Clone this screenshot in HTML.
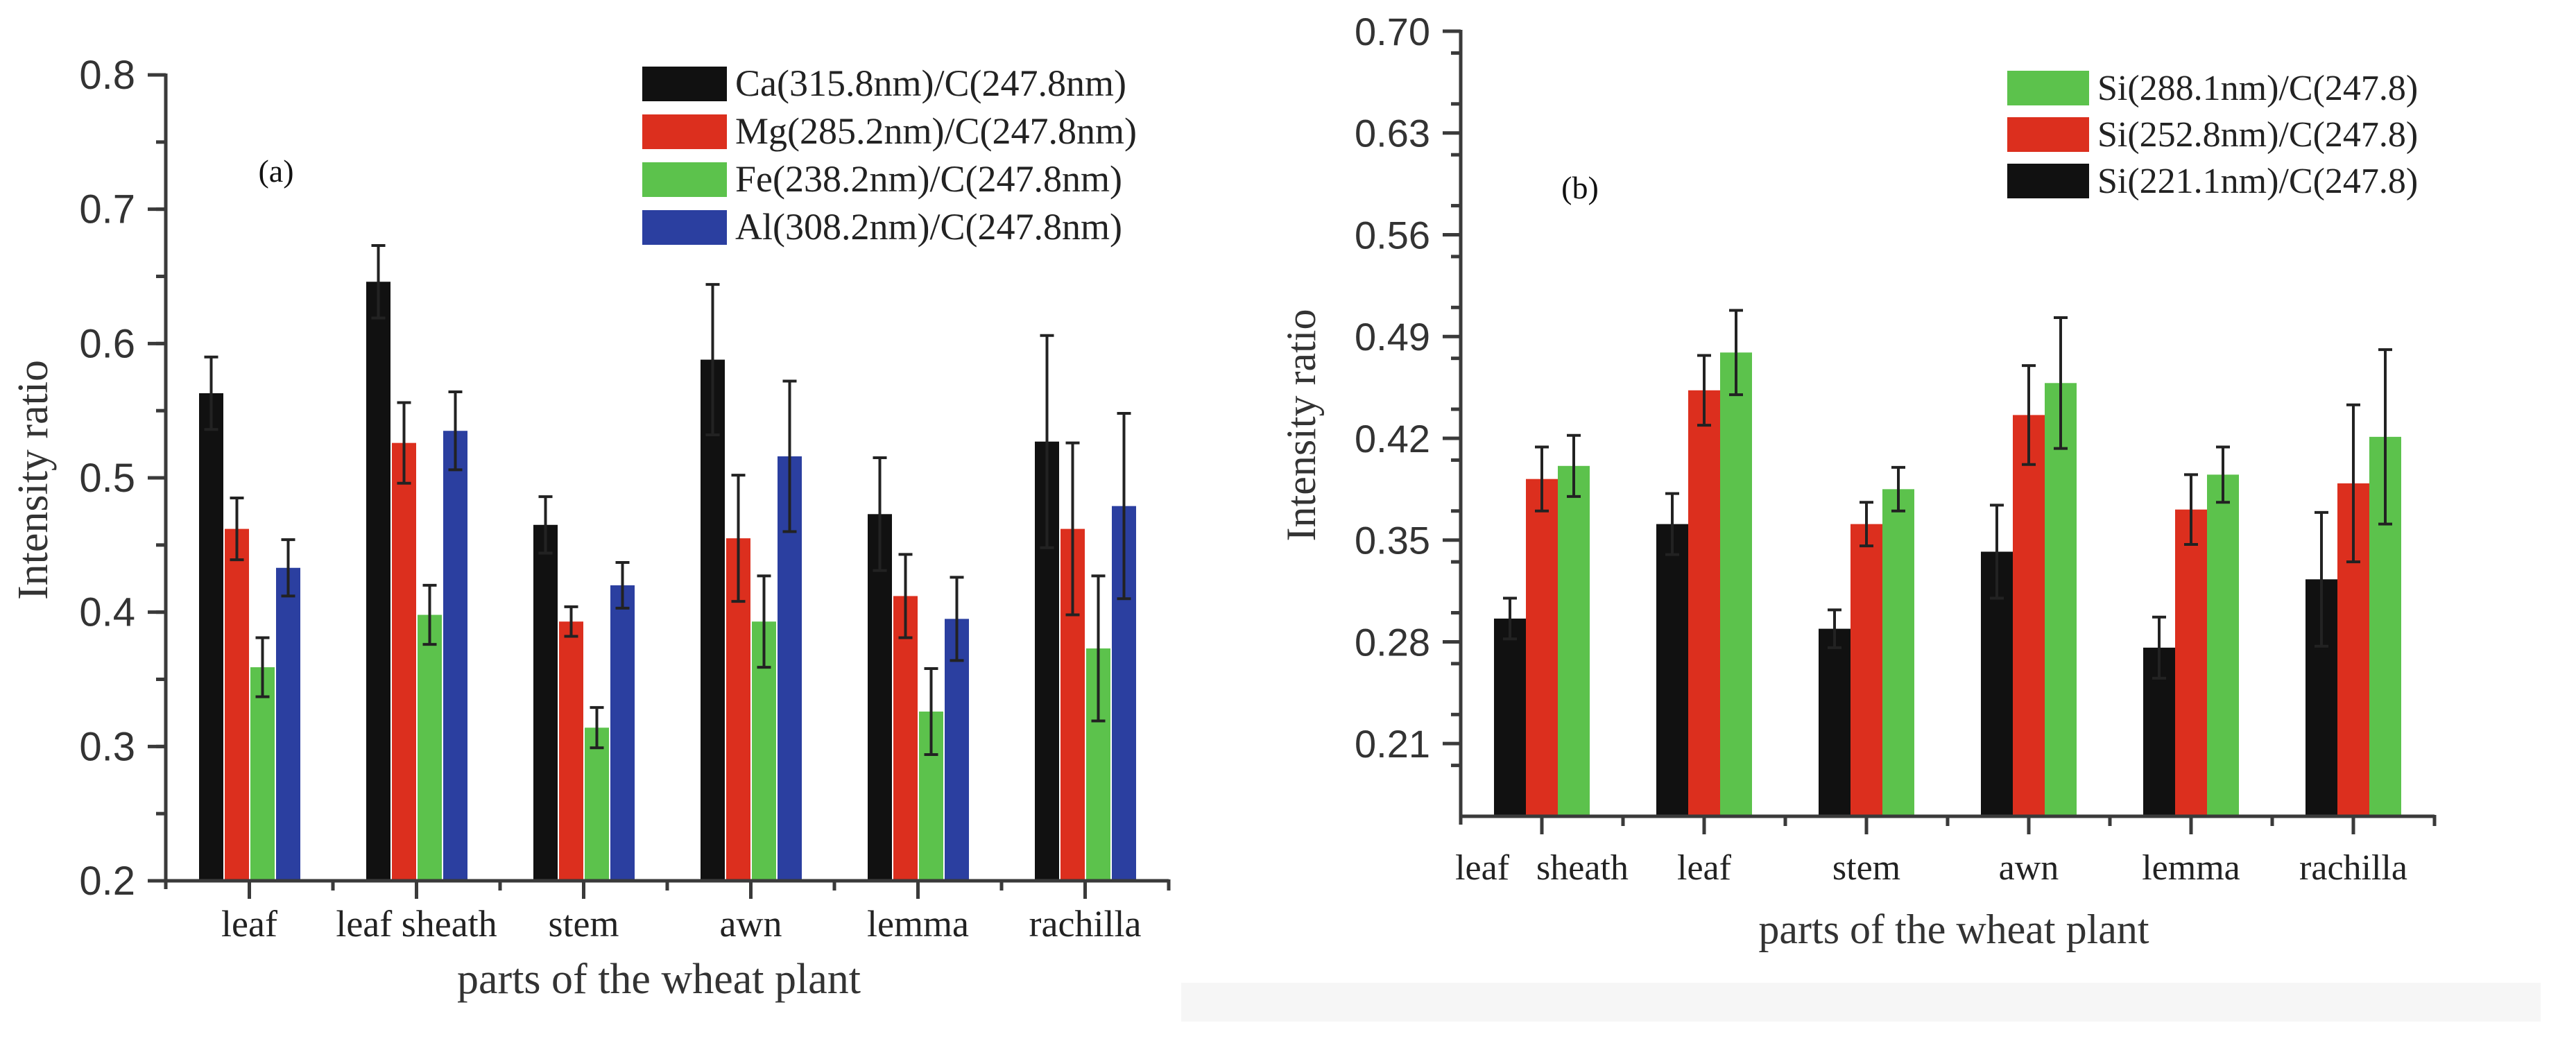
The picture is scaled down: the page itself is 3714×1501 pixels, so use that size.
<!DOCTYPE html>
<html><head><meta charset="utf-8"><style>
html,body{margin:0;padding:0;background:#fff;width:3714px;height:1501px;overflow:hidden}
svg{display:block}
.sans{font-family:"Liberation Sans",Arial,sans-serif}
.serif{font-family:"Liberation Serif","Times New Roman",serif}
text{white-space:pre}
</style></head><body>
<svg id="fig" width="3714" height="1501" viewBox="0 0 3714 1501" xmlns="http://www.w3.org/2000/svg">
<rect x="1703" y="1417" width="1960" height="56" fill="#f6f6f6"/>
<g id="chartA"></g>
<g id="chartB"></g>
</svg>
<script>
// ---- Chart (a) data ----
const catsA = ["leaf","leaf sheath","stem","awn","lemma","rachilla"];
const seriesNamesA = ["Ca(315.8nm)/C(247.8nm)","Mg(285.2nm)/C(247.8nm)","Fe(238.2nm)/C(247.8nm)","Al(308.2nm)/C(247.8nm)"];
const caA = [0.563,0.646,0.465,0.588,0.473,0.527];
const mgA = [0.462,0.526,0.393,0.455,0.412,0.462];
const feA = [0.359,0.398,0.314,0.393,0.326,0.373];
const alA = [0.433,0.535,0.420,0.516,0.395,0.479];
const caErrA = [0.027,0.027,0.021,0.056,0.042,0.079];
const mgErrA = [0.023,0.030,0.011,0.047,0.031,0.064];
const feErrA = [0.022,0.022,0.015,0.034,0.032,0.054];
const alErrA = [0.021,0.029,0.017,0.056,0.031,0.069];
const yTicksA = ["0.2","0.3","0.4","0.5","0.6","0.7","0.8"];

// ---- Chart (b) data ----
const catsB = ["leaf   sheath","leaf","stem","awn","lemma","rachilla"];
const seriesNamesB = ["Si(288.1nm)/C(247.8)","Si(252.8nm)/C(247.8)","Si(221.1nm)/C(247.8)"];
const si221 = [0.296,0.361,0.289,0.342,0.276,0.323];
const si252 = [0.392,0.453,0.361,0.436,0.371,0.389];
const si288 = [0.401,0.479,0.385,0.458,0.395,0.421];
const si221Err = [0.014,0.021,0.013,0.032,0.021,0.046];
const si252Err = [0.022,0.024,0.015,0.034,0.024,0.054];
const si288Err = [0.021,0.029,0.015,0.045,0.019,0.060];
const yTicksB = ["0.21","0.28","0.35","0.42","0.49","0.56","0.63","0.70"];

const NS="http://www.w3.org/2000/svg";
function mk(parent,tag,attrs,text){
  const e=document.createElementNS(NS,tag);
  for(const k in attrs) e.setAttribute(k,attrs[k]);
  if(text!==undefined) e.textContent=text;
  parent.appendChild(e); return e;
}
const AX="#3a3a3a";

function drawChart(g,o){
  const x0=o.x0,x1=o.x1,yTop=o.yTop,yBot=o.yBot;
  const Y=v=>yBot-(v-o.ymin)/(o.ymax-o.ymin)*(yBot-yTop);
  const cw=(x1-x0)/o.cats.length;
  const X=i=>x0+(i+0.5)*cw;
  o.series.forEach((s,si)=>{
    s.vals.forEach((v,i)=>{
      const cx=X(i)+o.offsets[si];
      const r=mk(g,'rect',{x:cx-o.bw/2,y:Y(v),width:o.bw,height:yBot-Y(v),fill:s.color});
      
      
      const e=s.err[i];
      const eg=mk(g,'g',{stroke:'#222','stroke-width':4});
      
      
      mk(eg,'line',{x1:cx,x2:cx,y1:Y(v+e),y2:Y(v-e)});
      mk(eg,'line',{x1:cx-10,x2:cx+10,y1:Y(v+e),y2:Y(v+e)});
      mk(eg,'line',{x1:cx-10,x2:cx+10,y1:Y(v-e),y2:Y(v-e)});
    });
  });
  const ax=mk(g,'g',{stroke:AX,'stroke-width':5,fill:'none'});
  
  
  mk(ax,'line',{x1:x0,x2:x0,y1:yTop-2,y2:yBot+12});
  mk(ax,'line',{x1:x0-2,x2:x1,y1:yBot,y2:yBot});
  mk(ax,'line',{x1:x1,x2:x1,y1:yBot-2,y2:yBot+14});
  o.yTicks.forEach(t=>{
    const v=parseFloat(t),y=Y(v);
    mk(ax,'line',{x1:x0-26,x2:x0,y1:y,y2:y});
    const tx=mk(g,'text',{x:x0-44,y:y+20,'text-anchor':'end','font-size':o.tickFs,fill:'#333',class:'sans'},t);
    
    
  });
  for(let v=o.ymin+o.minor;v<o.ymax-1e-6;v+=o.minor){
    const y=Y(v); mk(ax,'line',{x1:x0-14,x2:x0,y1:y,y2:y});
  }
  o.cats.forEach((c,i)=>{
    mk(ax,'line',{x1:X(i),x2:X(i),y1:yBot,y2:yBot+26});
    if(i>0) mk(ax,'line',{x1:x0+i*cw,x2:x0+i*cw,y1:yBot,y2:yBot+14});
    const tx=mk(g,'text',{x:X(i),y:o.labY,'text-anchor':'middle','font-size':o.labFs,fill:'#222',class:'serif'},c);
    
    
  });
  const xt=mk(g,'text',{x:o.xTitleX,y:o.xTitleY,'text-anchor':'middle','font-size':o.titleFs,fill:'#333',class:'serif'},'parts of the wheat plant');
   
  const yt=mk(g,'text',{x:0,y:0,'text-anchor':'middle','font-size':o.titleFs,fill:'#333',class:'serif',transform:`translate(${o.yTitleX},${o.yTitleY}) rotate(-90)`},'Intensity ratio');
   
  const pl=mk(g,'text',{x:o.panelX,y:o.panelY,'text-anchor':'middle','font-size':46,fill:'#111',class:'serif'},o.panel);
   
  o.legend.forEach((l,i)=>{
    const lg=mk(g,'g',{});
    
    
    const y=o.legY+i*o.legDy;
    mk(lg,'rect',{x:o.legX,y:y-24,width:o.legW,height:50,fill:l.color});
    mk(lg,'text',{x:o.legX+o.legW+12,y:y+18,'font-size':o.legFs,fill:'#222',class:'serif'},l.name);
  });
}

const BLK="#111111",RED="#dc2f1e",GRN="#5cc24c",BLU="#2b3fa0";
drawChart(document.getElementById('chartA'),{
  x0:239,x1:1685,yTop:108,yBot:1270,ymin:0.2,ymax:0.8,minor:0.05,
  cats:catsA,yTicks:yTicksA,bw:35,offsets:[-55,-18,19,56],
  series:[
    {key:'ca',vals:caA,err:caErrA,color:BLK},
    {key:'mg',vals:mgA,err:mgErrA,color:RED},
    {key:'fe',vals:feA,err:feErrA,color:GRN},
    {key:'al',vals:alA,err:alErrA,color:BLU}],
  tickFs:58,labY:1350,labFs:54,titleFs:62,xTitleX:950,xTitleY:1432,yTitleX:68,yTitleY:692,
  panel:'(a)',panelX:398,panelY:262,
  legend:[{name:seriesNamesA[0],color:BLK},{name:seriesNamesA[1],color:RED},{name:seriesNamesA[2],color:GRN},{name:seriesNamesA[3],color:BLU}],
  legX:926,legW:122,legY:120,legDy:69,legFs:54
});
drawChart(document.getElementById('chartB'),{
  x0:2106,x1:3510,yTop:45,yBot:1177,ymin:0.16,ymax:0.70,minor:0.035,
  cats:catsB,yTicks:yTicksB,bw:46,offsets:[-46,0,46],
  series:[
    {key:'si221',vals:si221,err:si221Err,color:BLK},
    {key:'si252',vals:si252,err:si252Err,color:RED},
    {key:'si288',vals:si288,err:si288Err,color:GRN}],
  tickFs:56,labY:1268,labFs:52,titleFs:60,xTitleX:2817,xTitleY:1360,yTitleX:1896,yTitleY:613,
  panel:'(b)',panelX:2278,panelY:286,
  legend:[{name:seriesNamesB[0],color:GRN},{name:seriesNamesB[1],color:RED},{name:seriesNamesB[2],color:BLK}],
  legX:2894,legW:118,legY:126,legDy:67,legFs:52
});
</script>
</body></html>
